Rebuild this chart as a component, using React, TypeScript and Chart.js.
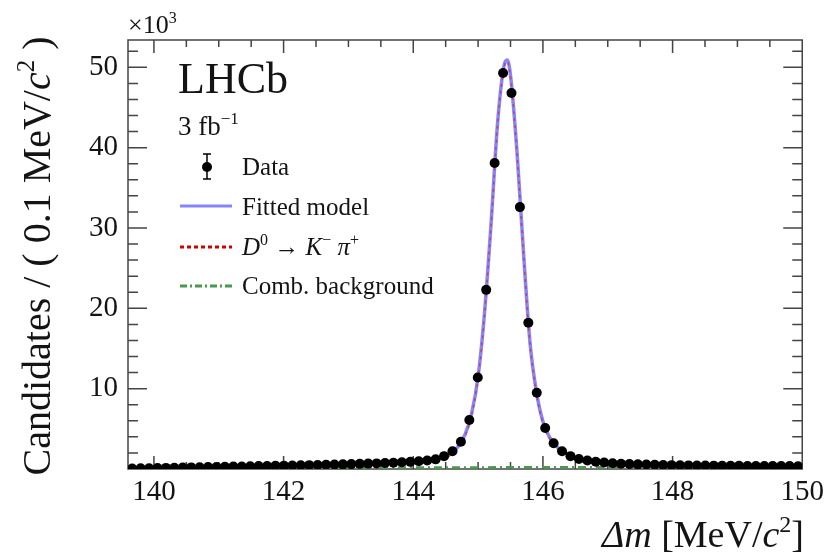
import React, { useEffect, useRef } from "react";
import { Chart, registerables } from "chart.js";

Chart.register(...registerables);

// Bin centres of Δm (MeV/c²)
const binCenters = [
  139.665, 139.795, 139.925, 140.055, 140.185, 140.315, 140.445, 140.575, 140.705, 140.835,
  140.965, 141.095, 141.225, 141.355, 141.485, 141.615, 141.745, 141.875, 142.005, 142.135,
  142.265, 142.395, 142.525, 142.655, 142.785, 142.915, 143.045, 143.175, 143.305, 143.435,
  143.565, 143.695, 143.825, 143.955, 144.085, 144.215, 144.345, 144.475, 144.605, 144.735,
  144.865, 144.995, 145.125, 145.255, 145.385, 145.515, 145.645, 145.775, 145.905, 146.035,
  146.165, 146.295, 146.425, 146.555, 146.685, 146.815, 146.945, 147.075, 147.205, 147.335,
  147.465, 147.595, 147.725, 147.855, 147.985, 148.115, 148.245, 148.375, 148.505, 148.635,
  148.765, 148.895, 149.025, 149.155, 149.285, 149.415, 149.545, 149.675, 149.805, 149.935,
];

// Candidates per bin (×10³)
const candidates = [
  0.05, 0.08, 0.1, 0.12, 0.14, 0.16, 0.18, 0.2, 0.22, 0.24,
  0.26, 0.28, 0.3, 0.32, 0.34, 0.36, 0.38, 0.4, 0.42, 0.44,
  0.46, 0.48, 0.5, 0.52, 0.55, 0.58, 0.61, 0.64, 0.67, 0.7,
  0.74, 0.78, 0.83, 0.89, 0.96, 1.05, 1.2, 1.6, 2.2, 3.4,
  6.1, 11.4, 22.3, 38.1, 49.3, 46.8, 32.6, 18.2, 9.5, 5.1,
  3.2, 2.2, 1.6, 1.25, 1.05, 0.9, 0.8, 0.72, 0.66, 0.62,
  0.58, 0.55, 0.52, 0.5, 0.48, 0.46, 0.45, 0.44, 0.43, 0.42,
  0.41, 0.4, 0.39, 0.38, 0.38, 0.37, 0.37, 0.36, 0.36, 0.35,
];

// Fitted model curve samples
const fitMass = [
  139.6, 140.0, 140.5, 141.0, 141.5, 142.0, 142.5, 143.0, 143.5, 144.0,
  144.3, 144.5, 144.6, 144.7, 144.8, 144.9, 145.0, 145.1, 145.2, 145.3,
  145.4, 145.45, 145.5, 145.6, 145.7, 145.8, 145.9, 146.0, 146.1, 146.2,
  146.3, 146.5, 146.7, 147.0, 147.5, 148.0, 148.5, 149.0, 149.5, 150.0,
];
const fitModel = [
  0.03, 0.12, 0.19, 0.26, 0.34, 0.42, 0.51, 0.6, 0.73, 0.9,
  1.1, 1.55, 2.05, 2.9, 4.3, 6.9, 11.5, 19.5, 30.5, 43.0,
  50.2, 50.9, 49.0, 39.5, 27.0, 15.8, 9.6, 5.9, 4.0, 2.9,
  2.2, 1.4, 1.02, 0.76, 0.58, 0.48, 0.44, 0.41, 0.38, 0.36,
];
// D0 -> K- pi+ signal component (same mass samples)
const signalModel = [
  0.03, 0.05, 0.09, 0.14, 0.2, 0.27, 0.35, 0.43, 0.55, 0.71,
  0.91, 1.36, 1.86, 2.71, 4.11, 6.71, 11.3, 19.3, 30.3, 42.8,
  50.0, 50.7, 48.8, 39.3, 26.8, 15.6, 9.4, 5.7, 3.79, 2.69,
  1.99, 1.19, 0.81, 0.54, 0.35, 0.25, 0.2, 0.17, 0.14, 0.12,
];
// Combinatorial background component
const bkgMass = [139.6, 139.7, 140.0, 140.5, 141.0, 142.0, 143.0, 144.0, 145.0, 146.0, 147.0, 148.0, 149.0, 150.0];
const combBackground = [0, 0.04, 0.07, 0.1, 0.12, 0.15, 0.17, 0.19, 0.2, 0.21, 0.22, 0.23, 0.235, 0.24];

const xTickValues = [140, 142, 144, 146, 148, 150];
const yTickValues = [10, 20, 30, 40, 50];

const FAM = '"Liberation Serif", "Times New Roman", serif';
const TXT = "#141414";

type Seg = { t: string; it?: boolean; sup?: boolean };

function drawRich(
  ctx: CanvasRenderingContext2D,
  segs: Seg[],
  x: number,
  y: number,
  size: number,
  align: "left" | "right" | "center"
) {
  const fontFor = (s: Seg) =>
    `${s.it ? "italic " : ""}${s.sup ? Math.round(size * 0.62) : size}px ${FAM}`;
  let total = 0;
  const widths = segs.map((s) => {
    ctx.font = fontFor(s);
    const w = ctx.measureText(s.t).width;
    total += w;
    return w;
  });
  let cx = align === "left" ? x : align === "right" ? x - total : x - total / 2;
  ctx.textAlign = "left";
  ctx.textBaseline = "alphabetic";
  segs.forEach((s, i) => {
    ctx.font = fontFor(s);
    ctx.fillText(s.t, cx, s.sup ? y - size * 0.4 : y);
    cx += widths[i];
  });
}

const decorPlugin = {
  id: "lhcbDecor",
  beforeDatasetsDraw(chart: any) {
    const { ctx, chartArea: a, scales } = chart;
    const xs = scales.x;
    const ys = scales.y;
    ctx.save();
    ctx.strokeStyle = "#444";
    ctx.lineWidth = 1.5;
    ctx.strokeRect(a.left, a.top, a.right - a.left, a.bottom - a.top);
    // y ticks
    for (let v = 0; v <= 53; v += 2) {
      const p = ys.getPixelForValue(v);
      if (p < a.top + 1 || p > a.bottom - 1) continue;
      const len = v % 10 === 0 ? 19 : 10;
      ctx.beginPath();
      ctx.moveTo(a.left, p);
      ctx.lineTo(a.left + len, p);
      ctx.moveTo(a.right, p);
      ctx.lineTo(a.right - len, p);
      ctx.stroke();
    }
    // x ticks
    for (let v = 140; v < 150; v += 0.5) {
      const p = xs.getPixelForValue(v);
      const len = v % 2 === 0 ? 13 : 7;
      ctx.beginPath();
      ctx.moveTo(p, a.bottom);
      ctx.lineTo(p, a.bottom - len);
      ctx.moveTo(p, a.top);
      ctx.lineTo(p, a.top + len);
      ctx.stroke();
    }
    ctx.restore();
  },
  afterDraw(chart: any) {
    const { ctx } = chart;
    ctx.save();
    ctx.fillStyle = TXT;
    // ×10^3
    drawRich(ctx, [{ t: "×10" }, { t: "3", sup: true }], 128, 33, 26, "left");
    // LHCb
    drawRich(ctx, [{ t: "LHCb" }], 178, 93, 44, "left");
    drawRich(ctx, [{ t: "3 fb" }, { t: "−1", sup: true }], 178, 135, 27, "left");
    // Y title
    ctx.save();
    ctx.translate(50, 256);
    ctx.rotate(-Math.PI / 2);
    drawRich(
      ctx,
      [{ t: "Candidates / ( 0.1 MeV/" }, { t: "c", it: true }, { t: "2", sup: true }, { t: " )" }],
      0,
      0,
      40,
      "center"
    );
    ctx.restore();
    // X title
    drawRich(
      ctx,
      [{ t: "Δm", it: true }, { t: " [MeV/" }, { t: "c", it: true }, { t: "2", sup: true }, { t: "]" }],
      804,
      547,
      38,
      "right"
    );
    // Legend
    const lx = 242;
    const fs = 25;
    // data marker
    ctx.strokeStyle = "#000";
    ctx.lineWidth = 1.5;
    ctx.beginPath();
    ctx.moveTo(207, 154);
    ctx.lineTo(207, 179);
    ctx.moveTo(203, 154);
    ctx.lineTo(211, 154);
    ctx.moveTo(203, 179);
    ctx.lineTo(211, 179);
    ctx.stroke();
    ctx.fillStyle = "#000";
    ctx.beginPath();
    ctx.arc(207, 167, 5, 0, Math.PI * 2);
    ctx.fill();
    ctx.fillStyle = TXT;
    drawRich(ctx, [{ t: "Data" }], lx, 175, fs, "left");
    // fitted
    ctx.strokeStyle = "rgba(120,120,255,0.9)";
    ctx.lineWidth = 3;
    ctx.setLineDash([]);
    ctx.beginPath();
    ctx.moveTo(180, 206);
    ctx.lineTo(232, 206);
    ctx.stroke();
    drawRich(ctx, [{ t: "Fitted model" }], lx, 215, fs, "left");
    // signal
    ctx.strokeStyle = "#d20000";
    ctx.lineWidth = 3;
    ctx.setLineDash([4, 3]);
    ctx.beginPath();
    ctx.moveTo(180, 247);
    ctx.lineTo(232, 247);
    ctx.stroke();
    drawRich(
      ctx,
      [
        { t: "D", it: true },
        { t: "0", sup: true },
        { t: " → " },
        { t: "K", it: true },
        { t: "−", sup: true },
        { t: " " },
        { t: "π", it: true },
        { t: "+", sup: true },
      ],
      lx,
      255,
      fs,
      "left"
    );
    // background
    ctx.strokeStyle = "#4a9a4a";
    ctx.lineWidth = 3;
    ctx.setLineDash([7, 3, 2, 3]);
    ctx.beginPath();
    ctx.moveTo(180, 286);
    ctx.lineTo(232, 286);
    ctx.stroke();
    ctx.setLineDash([]);
    drawRich(ctx, [{ t: "Comb. background" }], lx, 294, fs, "left");
    ctx.restore();
  },
};

export default function App() {
  const ref = useRef<HTMLCanvasElement>(null);
  useEffect(() => {
    if (!ref.current) return;
    const dataPts = binCenters.map((x, i) => ({ x, y: candidates[i] }));
    const fitPts = fitMass.map((x, i) => ({ x, y: fitModel[i] }));
    const sigPts = fitMass.map((x, i) => ({ x, y: signalModel[i] }));
    const bkgPts = bkgMass.map((x, i) => ({ x, y: combBackground[i] }));
    const chart = new Chart(ref.current, {
      type: "scatter",
      data: {
        datasets: [
          {
            label: "Data",
            data: dataPts,
            pointRadius: 5,
            pointBackgroundColor: "#000",
            pointBorderWidth: 0,
            showLine: false,
            order: 0,
          },
          {
            label: "D0 -> K- pi+",
            data: sigPts,
            showLine: true,
            pointRadius: 0,
            borderColor: "rgba(220,40,40,0.75)",
            borderWidth: 1.5,
            borderDash: [3, 4],
            cubicInterpolationMode: "monotone",
            order: 1,
          },
          {
            label: "Fitted model",
            data: fitPts,
            showLine: true,
            pointRadius: 0,
            borderColor: "rgba(120,120,255,0.9)",
            borderWidth: 3.5,
            cubicInterpolationMode: "monotone",
            order: 2,
          },
          {
            label: "Comb. background",
            data: bkgPts,
            showLine: true,
            pointRadius: 0,
            borderColor: "#4a9a4a",
            borderWidth: 2.5,
            borderDash: [8, 4, 2, 4],
            cubicInterpolationMode: "monotone",
            order: 3,
          },
        ],
      } as any,
      options: {
        animation: false,
        responsive: false,
        devicePixelRatio: 1,
        layout: { padding: { left: 0, right: 25, top: 40, bottom: 0 } },
        plugins: { legend: { display: false }, tooltip: { enabled: false } },
        scales: {
          x: {
            type: "linear",
            min: 139.6,
            max: 150,
            grid: { display: false, drawTicks: false },
            border: { display: false },
            afterBuildTicks: (s: any) => {
              s.ticks = xTickValues.map((v) => ({ value: v }));
            },
            afterFit: (s: any) => {
              s.height = 87;
            },
            ticks: {
              font: { family: FAM, size: 29 },
              color: TXT,
              padding: 6,
              maxRotation: 0,
              autoSkip: false,
              callback: (v: any) => String(v),
            },
          },
          y: {
            type: "linear",
            min: 0,
            max: 53.4,
            grid: { display: false, drawTicks: false },
            border: { display: false },
            afterBuildTicks: (s: any) => {
              s.ticks = yTickValues.map((v) => ({ value: v }));
            },
            afterFit: (s: any) => {
              s.width = 128;
            },
            ticks: {
              font: { family: FAM, size: 29 },
              color: TXT,
              padding: 10,
              autoSkip: false,
              callback: (v: any) => String(v),
            },
          },
        },
      } as any,
      plugins: [decorPlugin],
    });
    return () => chart.destroy();
  }, []);
  return (
    <div style={{ position: "absolute", left: 0, top: 0, width: 830, height: 556, background: "#fff" }}>
      <canvas ref={ref} width={830} height={556} style={{ display: "block", width: 830, height: 556 }} />
    </div>
  );
}
